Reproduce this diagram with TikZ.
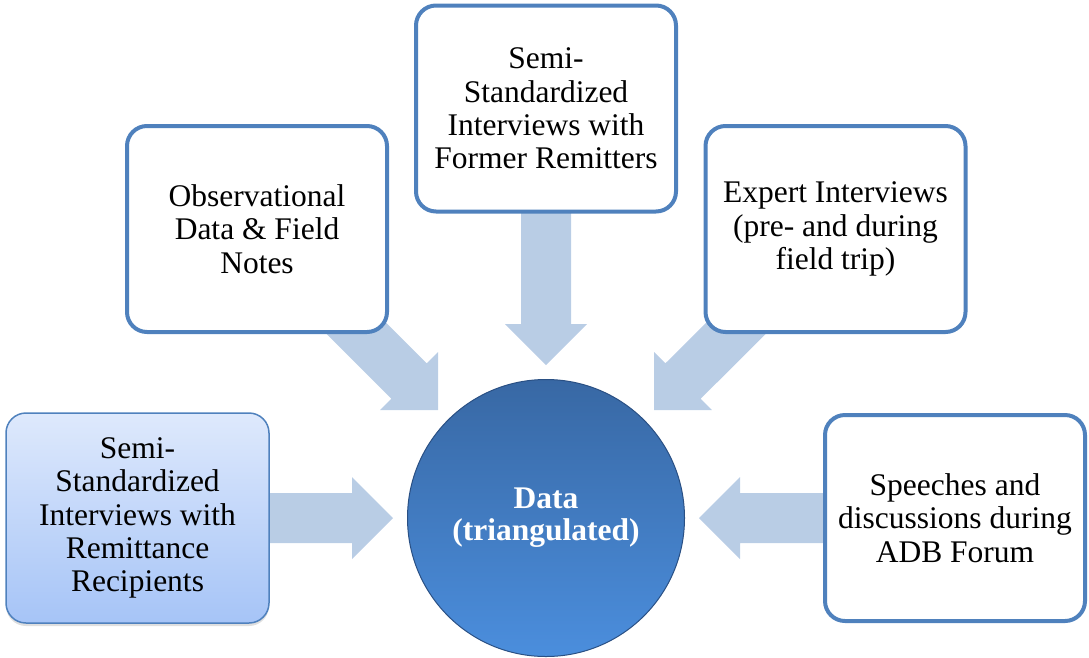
\documentclass[tikz,border=0pt]{standalone}
\usepackage{fontspec}
\setmainfont{Liberation Serif}
\usepackage{xcolor}
\usepackage{tikz}
\usetikzlibrary{positioning, calc, backgrounds, shadows}

\definecolor{boxline}{RGB}{79,129,189}
\definecolor{arrowfill}{RGB}{185,205,229}
\definecolor{recipTop}{RGB}{222,233,252}
\definecolor{recipBottom}{RGB}{166,196,247}
\definecolor{dataTop}{RGB}{56,104,164}
\definecolor{dataBottom}{RGB}{75,142,221}
\definecolor{dataRim}{RGB}{42,80,132}

% block arrow from #1 to #2
\newcommand{\bigarrow}[2]{%
  \path ($(#2)!41pt!(#1)$) coordinate (headbase);
  \fill[arrowfill] (#2) -- ($(headbase)!41pt!90:(#2)$) -- ($(headbase)!25pt!90:(#2)$)
    -- ($(#1)!25pt!90:(#2)$) -- ($(#1)!25pt!-90:(#2)$)
    -- ($(headbase)!25pt!-90:(#2)$) -- ($(headbase)!41pt!-90:(#2)$) -- cycle;}

\begin{document}
\begin{tikzpicture}[
    x=1pt, y=-1pt,
    font=\fontsize{31.5pt}{33.3pt}\selectfont,
    block/.style={rectangle, draw=boxline, line width=4pt, fill=white, rounded corners=20pt, minimum width=260pt, minimum height=206pt, align=center, inner sep=0pt},
    shadedblock/.style={block, line width=1.5pt, top color=recipTop, bottom color=recipBottom, minimum width=263pt, minimum height=210pt, drop shadow={shadow xshift=0pt, shadow yshift=-3pt, opacity=0.25}},
    hub/.style={circle, draw=dataRim, line width=1pt, top color=dataTop, bottom color=dataBottom, minimum size=277pt, text=white, font=\fontsize{31.5pt}{32pt}\selectfont\bfseries, align=center}
]
    \useasboundingbox (0,0) rectangle (1089,657);

    % Nodes
    \node [hub] (data) at (546,518) {Data\\(triangulated)};
    \node [shadedblock, left of=data, node distance=408.5pt] (recip) {Semi-\\Standardized\\Interviews with\\Remittance\\Recipients};
    \node [block, above of=data, node distance=289pt, xshift=-289pt] (obs) {Observational\\Data \& Field\\Notes};
    \node [block, above of=data, node distance=409.5pt] (former) {Semi-\\Standardized\\Interviews with\\Former Remitters};
    \node [block, above of=data, node distance=289pt, xshift=289.5pt] (expert) {Expert Interviews\\(pre- and during\\field trip)};
    \node [block, right of=data, node distance=409pt] (speech) {Speeches and\\discussions during\\ADB Forum};

    % Arrow tips
    \coordinate (tipRecip) at (393,518);
    \coordinate (tipObs) at (438,410);
    \coordinate (tipFormer) at (546,365);
    \coordinate (tipExpert) at (654,410);
    \coordinate (tipSpeech) at (699,518);

    % Arrows
    \begin{scope}[on background layer]
        \bigarrow{recip.center}{tipRecip}
        \bigarrow{obs.center}{tipObs}
        \bigarrow{former.center}{tipFormer}
        \bigarrow{expert.center}{tipExpert}
        \bigarrow{speech.center}{tipSpeech}
    \end{scope}

\end{tikzpicture}
\end{document}
